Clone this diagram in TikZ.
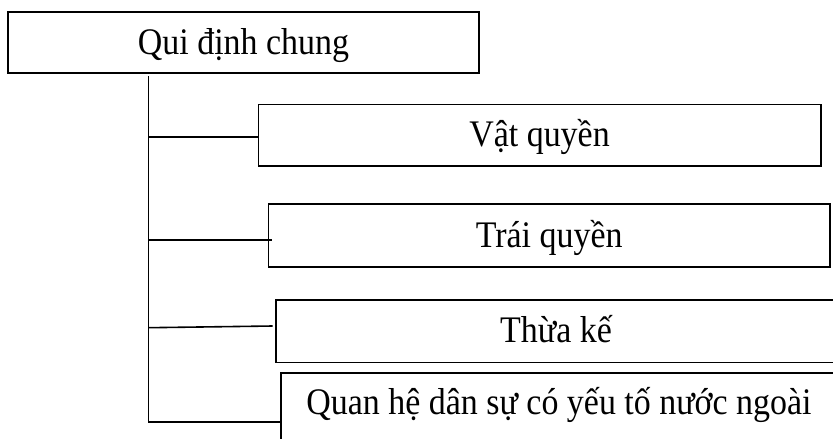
\documentclass[tikz,border=0pt]{standalone}
\usepackage{fontspec}
\setmainfont{Liberation Serif}[FakeStretch=0.905]
\begin{document}
\begin{tikzpicture}[x=1pt,y=-1pt,
  box/.style={draw, line width=1.6pt, inner sep=0pt, font=\fontsize{37.5}{41}\selectfont, text height=30pt, text depth=7pt},
  conn/.style={line width=1.6pt}]
\useasboundingbox (0,0) rectangle (833,439);
\clip (0,0) rectangle (833,439);
\node[box, minimum width=471pt, minimum height=61pt] (qdc) at (243.5,42.5) {Qui định chung};
\node[box, minimum width=562.4pt, minimum height=61.4pt] (vq) at (539.5,135) {Vật quyền};
\node[box, minimum width=561.7pt, minimum height=63pt] (tq) at (549.2,235.6) {Trái quyền};
\node[box, minimum width=560pt, minimum height=62.6pt] (tk) at (556,331) {Thừa kế};
\node[box, minimum width=556.6pt, minimum height=100pt, text depth=47.4pt] (qh) at (559,422.7) {Quan hệ dân sự có yếu tố nước ngoài\hspace{7pt}};
\coordinate (top) at (148.5,76);
\coordinate (bot) at (148.5,421.7);
\coordinate (j1) at (148.5,136.7);
\coordinate (j2) at (148.5,240);
\coordinate (e2) at (271.7,240);
\coordinate (j3) at (148.5,327.7);
\coordinate (e3) at (272.7,326);
\draw[conn] (top) -- (bot) -- (bot -| qh.west);
\draw[conn] (j1) -- (j1 -| vq.west);
\draw[conn] (j2) -- (e2);
\draw[conn] (j3) -- (e3);
\end{tikzpicture}
\end{document}
